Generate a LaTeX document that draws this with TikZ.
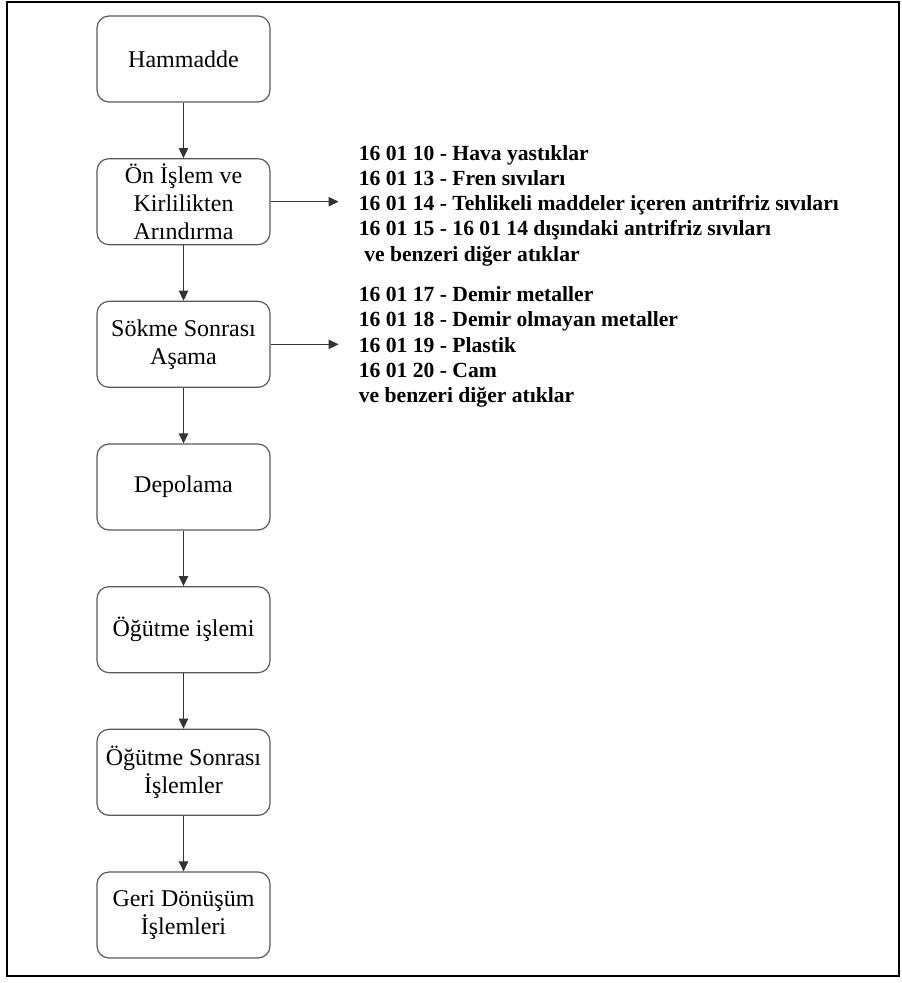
\documentclass[tikz,border=0pt]{standalone}
\usepackage{fontspec}
\setmainfont{Liberation Serif}
\usetikzlibrary{arrows.meta,positioning}

\begin{document}
\begin{tikzpicture}[
  x=0.75pt, y=-0.75pt,
  node distance=41.6pt,
  box/.style={draw=black!65, line width=0.9pt, rounded corners=9pt, align=center,
              minimum width=129.75pt, minimum height=64.5pt, inner sep=1pt,
              font=\fontsize{18}{21}\selectfont},
  codes/.style={align=left, inner sep=0pt, font=\bfseries\fontsize{16.2}{18.9}\selectfont},
  arr/.style={-{Triangle[length=7.5pt, width=7pt]}, line width=0.8pt, black!80}
]
\useasboundingbox (0,0) rectangle (901,983);
\draw[line width=1.5pt] (7,2) rectangle (899,976);
% main flow
\node[box] (raw) at (183.5,59) {Hammadde};
\node[box, below=of raw] (pre) {Ön İşlem ve\\ Kirlilikten\\ Arındırma};
\node[box, below=of pre] (dis) {Sökme Sonrası\\ Aşama};
\node[box, below=of dis] (store) {Depolama};
\node[box, below=of store] (grind) {Öğütme işlemi};
\node[box, below=of grind] (post) {Öğütme Sonrası\\ İşlemler};
\node[box, below=of post] (recyc) {Geri Dönüşüm\\ İşlemleri};
% waste code lists
\node[codes, right=66pt of pre, yshift=-3pt] (w1)
  {16 01 10 - Hava yastıklar\\
   16 01 13 - Fren sıvıları\\
   16 01 14 - Tehlikeli maddeler içeren antrifriz sıvıları\\
   16 01 15 - 16 01 14 dışındaki antrifriz sıvıları\\
   \ ve benzeri diğer atıklar};
\node[codes, right=66pt of dis, yshift=-2pt] (w2)
  {16 01 17 - Demir metaller\\
   16 01 18 - Demir olmayan metaller\\
   16 01 19 - Plastik\\
   16 01 20 - Cam\\
   ve benzeri diğer atıklar};
% arrows
\draw[arr] (raw) -- (pre);
\draw[arr] (pre) -- (dis);
\draw[arr] (dis) -- (store);
\draw[arr] (store) -- (grind);
\draw[arr] (grind) -- (post);
\draw[arr] (post) -- (recyc);
\draw[arr] (pre.east) -- ([xshift=-15pt]w1.west |- pre.east);
\draw[arr] (dis.east) -- ([xshift=-15pt]w2.west |- dis.east);
\end{tikzpicture}
\end{document}
